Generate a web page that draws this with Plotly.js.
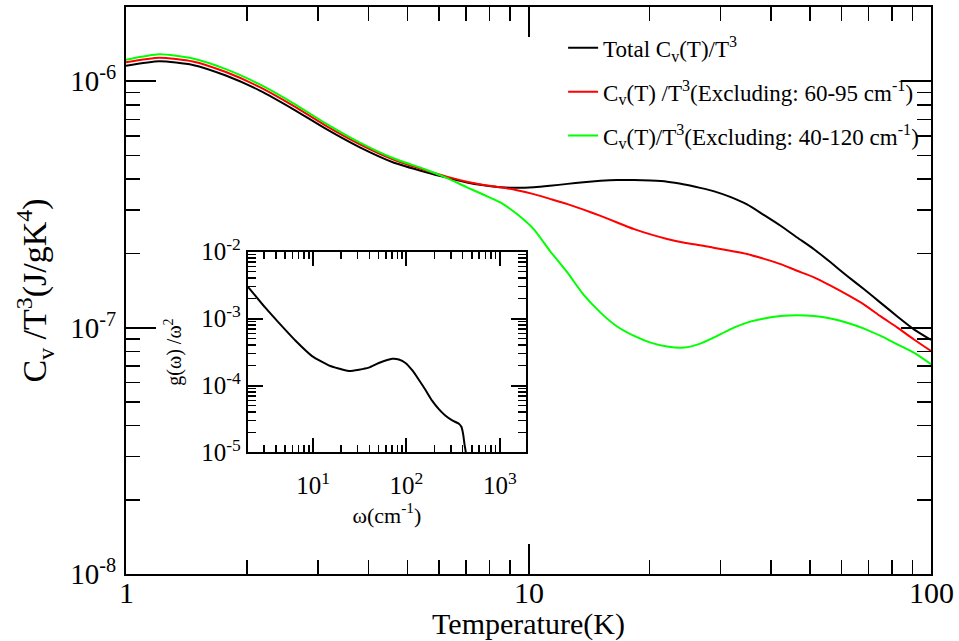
<!DOCTYPE html>
<html><head><meta charset="utf-8">
<script src="https://cdn.plot.ly/plotly-3.0.1.min.js"></script>
<style>html,body{margin:0;padding:0;background:#fff}#chart{width:959px;height:641px}</style>
</head><body><div id="chart"></div>
<script>
// ---- data ----
const temperature = [1, 1.21, 1.465, 1.77, 2.15, 2.6, 3.14, 3.8, 4.6, 5.57, 6.3, 7.03, 7.74, 8.51, 9.36, 10.3, 11.3, 12.5, 13.7, 15.1, 16.6, 18.3, 20.1, 22.1, 24.4, 26.7, 28.8, 31.7, 34.9, 38.5, 42.3, 46.5, 51.2, 56.3, 61.9, 68.2, 75, 82.5, 90.7, 100];
const cvTotal = [1.156e-6, 1.205e-6, 1.164e-6, 1.054e-6, 9.16e-7, 7.71e-7, 6.40e-7, 5.40e-7, 4.69e-7, 4.27e-7, 4.05e-7, 3.88e-7, 3.78e-7, 3.71e-7, 3.69e-7, 3.71e-7, 3.76e-7, 3.83e-7, 3.89e-7, 3.94e-7, 3.97e-7, 3.97e-7, 3.95e-7, 3.91e-7, 3.81e-7, 3.69e-7, 3.58e-7, 3.39e-7, 3.16e-7, 2.86e-7, 2.59e-7, 2.32e-7, 2.08e-7, 1.84e-7, 1.62e-7, 1.43e-7, 1.26e-7, 1.11e-7, 9.84e-8, 8.91e-8];
const cvExcl6095 = [1.194e-6, 1.245e-6, 1.202e-6, 1.089e-6, 9.46e-7, 7.96e-7, 6.59e-7, 5.56e-7, 4.82e-7, 4.34e-7, 4.09e-7, 3.91e-7, 3.79e-7, 3.71e-7, 3.61e-7, 3.48e-7, 3.33e-7, 3.17e-7, 3.01e-7, 2.84e-7, 2.67e-7, 2.51e-7, 2.39e-7, 2.29e-7, 2.21e-7, 2.16e-7, 2.11e-7, 2.05e-7, 1.99e-7, 1.90e-7, 1.81e-7, 1.70e-7, 1.60e-7, 1.48e-7, 1.36e-7, 1.24e-7, 1.11e-7, 1.00e-7, 8.95e-8, 8.04e-8];
const cvExcl40120 = [1.222e-6, 1.285e-6, 1.236e-6, 1.119e-6, 9.70e-7, 8.15e-7, 6.73e-7, 5.65e-7, 4.88e-7, 4.37e-7, 4.03e-7, 3.71e-7, 3.46e-7, 3.22e-7, 2.89e-7, 2.51e-7, 2.05e-7, 1.67e-7, 1.36e-7, 1.15e-7, 1.01e-7, 9.25e-8, 8.69e-8, 8.38e-8, 8.30e-8, 8.61e-8, 9.10e-8, 9.84e-8, 1.047e-7, 1.089e-7, 1.114e-7, 1.122e-7, 1.114e-7, 1.089e-7, 1.047e-7, 9.91e-8, 9.25e-8, 8.55e-8, 7.91e-8, 7.10e-8];

const omega = [2.0, 3.08, 4.28, 6.46, 9.75, 14.7, 24.1, 39.4, 50.5, 70.3, 82.8, 97.6, 115, 135, 160, 188, 222, 262, 309, 364, 388, 405, 418, 432, 440];
const gOverOmega2 = [3.0e-3, 1.45e-3, 8.7e-4, 4.69e-4, 2.75e-4, 2.0e-4, 1.65e-4, 1.85e-4, 2.17e-4, 2.51e-4, 2.45e-4, 2.17e-4, 1.69e-4, 1.23e-4, 8.55e-5, 5.94e-5, 4.43e-5, 3.53e-5, 3.01e-5, 2.69e-5, 2.40e-5, 1.85e-5, 1.32e-5, 1.0e-5, 5e-6];

const seriesNames = [
  'Total C<sub>v</sub>(T)/T<sup>3</sup>',
  'C<sub>v</sub>(T) /T<sup>3</sup>(Excluding: 60-95 cm<sup>-1</sup>)',
  'C<sub>v</sub>(T)/T<sup>3</sup>(Excluding: 40-120 cm<sup>-1</sup>)'
];
const seriesColors = ['#000000', '#ff0000', '#00ff00'];

const mainXTickVals = [1, 10, 100];
const mainXTickText = ['1', '10', '100'];
const mainYTickVals = [1e-8, 1e-7, 1e-6];
const mainYTickText = ['10<sup>-8</sup>', '10<sup>-7</sup>', '10<sup>-6</sup>'];
const insetXTickVals = [10, 100, 1000];
const insetXTickText = ['10<sup>1</sup>', '10<sup>2</sup>', '10<sup>3</sup>'];
const insetYTickVals = [1e-5, 1e-4, 1e-3, 1e-2];
const insetYTickText = ['10<sup>-5</sup>', '10<sup>-4</sup>', '10<sup>-3</sup>', '10<sup>-2</sup>'];

// minor tick positions (2..9 per decade)
function minorTicks(d0, d1) {
  const out = [];
  for (let d = d0; d <= d1; d++) for (let k = 2; k <= 9; k++) out.push(k * Math.pow(10, d));
  return out;
}

const FONT = 'Liberation Serif, Times New Roman, serif';

const traces = [
  {x: temperature, y: cvTotal, name: seriesNames[0], legendgroup: 'a'},
  {x: temperature, y: cvExcl6095, name: seriesNames[1], legendgroup: 'b'},
  {x: temperature, y: cvExcl40120, name: seriesNames[2], legendgroup: 'c'}
].map((t, i) => Object.assign(t, {
  type: 'scatter', mode: 'lines', xaxis: 'x', yaxis: 'y',
  line: {color: seriesColors[i], width: 2, shape: 'spline', smoothing: 0.6}
}));

traces.push({
  type: 'scatter', mode: 'lines', x: omega, y: gOverOmega2, xaxis: 'x2', yaxis: 'y2',
  showlegend: false, line: {color: '#000', width: 2, shape: 'spline', smoothing: 0.5}
});

const axisCommon = {
  type: 'log', showgrid: false, zeroline: false, showline: true, linecolor: '#000', linewidth: 2,
  mirror: 'allticks', ticks: 'inside', tickcolor: '#000', tickmode: 'array'
};

// main x tick labels placed as annotations so they can sit closer to the axis
const xLabelAnnotations = mainXTickVals.map((v, i) => ({
  xref: 'x', yref: 'paper', x: Math.log10(v), y: 0, yanchor: 'top', xanchor: 'center',
  yshift: 0, text: mainXTickText[i], showarrow: false, font: {family: FONT, size: 30, color: '#000'}
}));

const layout = {
  width: 959, height: 641,
  margin: {l: 126, r: 28, t: 7, b: 67},
  paper_bgcolor: '#fff', plot_bgcolor: '#fff',
  font: {family: FONT, color: '#000'},
  showlegend: true,
  legend: {x: 0.543, xanchor: 'left', y: 0.966, yanchor: 'top', bgcolor: 'rgba(0,0,0,0)',
           font: {family: FONT, size: 23, color: '#000'}, tracegroupgap: 11, itemwidth: 30},
  annotations: xLabelAnnotations,
  xaxis: Object.assign({}, axisCommon, {
    range: [0, 2], tickvals: mainXTickVals, ticktext: mainXTickText, showticklabels: false,
    ticklen: 30, tickwidth: 2, tickfont: {size: 30},
    minor: {tickmode: 'array', tickvals: minorTicks(0, 1), ticklen: 14, tickwidth: 1.5, tickcolor: '#000', ticks: 'inside'},
    title: {text: 'Temperature(K)', font: {size: 30}, standoff: 38}
  }),
  yaxis: Object.assign({}, axisCommon, {
    range: [-8, Math.log10(2e-6)], tickvals: mainYTickVals, ticktext: mainYTickText,
    ticklen: 30, tickwidth: 2, tickfont: {size: 29}, ticklabelstandoff: 2,
    minor: {tickmode: 'array', tickvals: minorTicks(-8, -7), ticklen: 14, tickwidth: 1.5, tickcolor: '#000', ticks: 'inside'},
    title: {text: 'C<sub>v</sub> /T<sup>3</sup>(J/gK<sup>4</sup>)', font: {size: 34}, standoff: 13}
  }),
  xaxis2: Object.assign({}, axisCommon, {
    domain: [0.1513, 0.4968], anchor: 'y2',
    range: [Math.log10(2), Math.log10(1900)], tickvals: insetXTickVals, ticktext: insetXTickText,
    ticklen: 14, tickwidth: 2, tickfont: {size: 25}, ticklabelstandoff: 10,
    minor: {tickmode: 'array', tickvals: minorTicks(0, 3), ticklen: 7, tickwidth: 1.5, tickcolor: '#000', ticks: 'inside'},
    title: {text: 'ω(cm<sup>-1</sup>)', font: {size: 22}, standoff: 5}
  }),
  yaxis2: Object.assign({}, axisCommon, {
    domain: [0.2143, 0.5687], anchor: 'x2',
    range: [-5, -2], tickvals: insetYTickVals, ticktext: insetYTickText,
    ticklen: 15, tickwidth: 2, tickfont: {size: 25},
    minor: {tickmode: 'array', tickvals: minorTicks(-5, -3), ticklen: 8, tickwidth: 1.5, tickcolor: '#000', ticks: 'inside'},
    title: {text: 'g(ω) /ω<sup>2</sup>', font: {size: 20}, standoff: 14}
  })
};

Plotly.newPlot('chart', traces, layout, {displayModeBar: false, staticPlot: true});
</script>
</body></html>
